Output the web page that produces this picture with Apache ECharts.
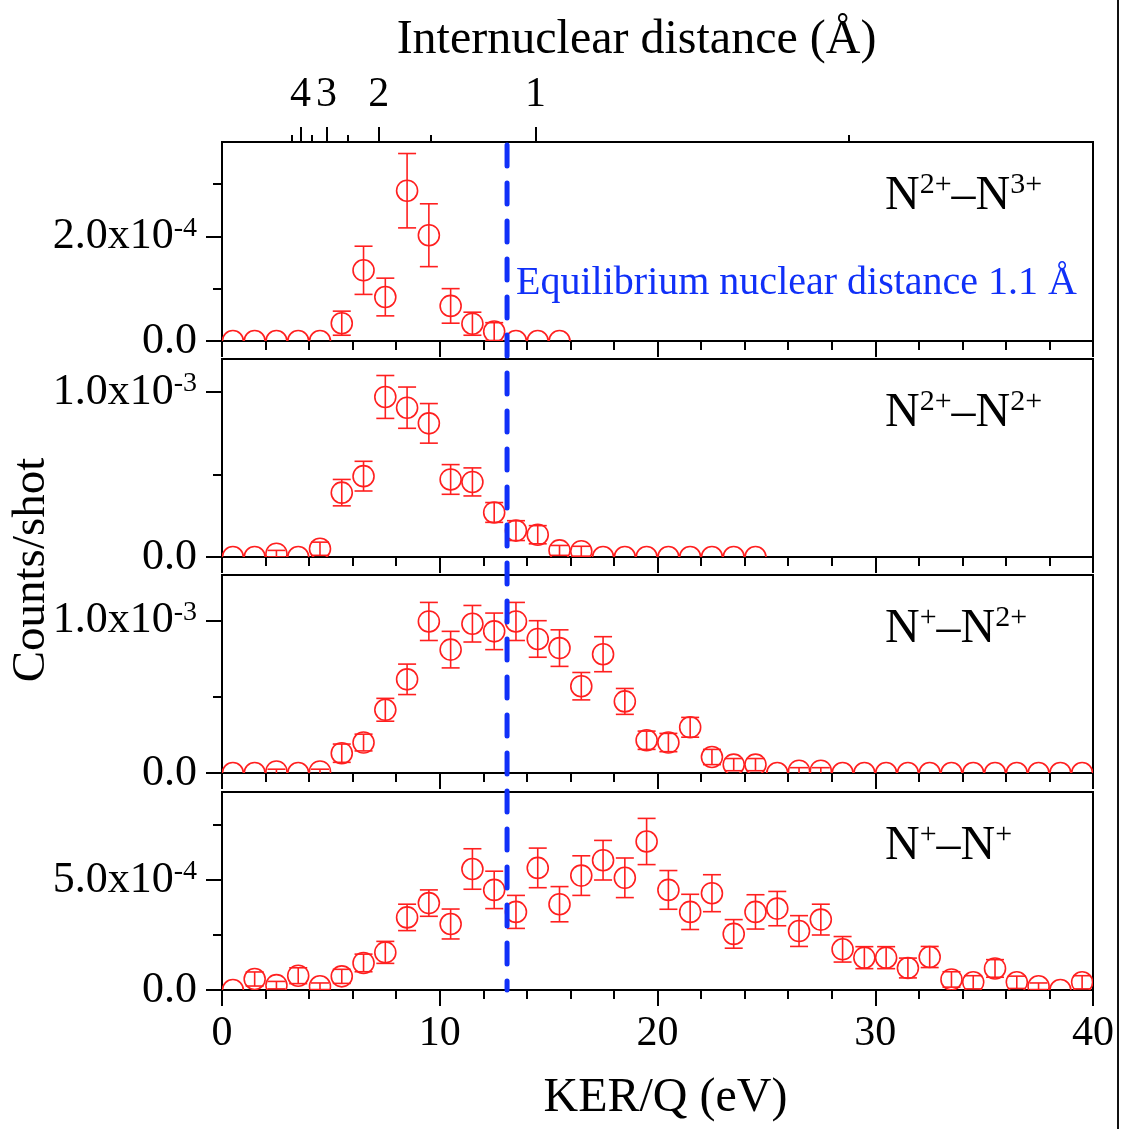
<!DOCTYPE html>
<html>
<head>
<meta charset="utf-8">
<script src="https://cdn.jsdelivr.net/npm/echarts@6/dist/echarts.min.js"></script>
<style>
  html, body { margin: 0; padding: 0; background: #fff; }
  #chart { width: 1123px; height: 1129px; }
</style>
</head>
<body>
<div id="chart"></div>
<script>
// KER/Q bin centres (eV)
const kerBins = [
  0.5, 1.5, 2.5, 3.5, 4.5, 5.5, 6.5, 7.5, 8.5, 9.5,
  10.5, 11.5, 12.5, 13.5, 14.5, 15.5, 16.5, 17.5, 18.5, 19.5,
  20.5, 21.5, 22.5, 23.5, 24.5, 25.5, 26.5, 27.5, 28.5, 29.5,
  30.5, 31.5, 32.5, 33.5, 34.5, 35.5, 36.5, 37.5, 38.5, 39.5
];

// N2+ - N3+  (counts/shot in units of 1e-4)
const n2n3Counts = [0, 0, 0, 0, 0, 0.34, 1.35, 0.84, 2.87, 2.02, 0.67, 0.33, 0.18, 0, 0, 0];
const n2n3Errors = [0, 0, 0, 0, 0, 0.23, 0.46, 0.36, 0.71, 0.60, 0.33, 0.22, 0.17, 0, 0, 0];

// N2+ - N2+  (units of 1e-3)
const n2n2Counts = [0, 0, 0.02, 0, 0.05, 0.39, 0.49, 0.97, 0.905, 0.81, 0.47, 0.455, 0.27, 0.16, 0.135, 0.04, 0.035,
  0, 0, 0, 0, 0, 0, 0, 0];
const n2n2Errors = [0, 0, 0.02, 0, 0.04, 0.08, 0.09, 0.13, 0.125, 0.12, 0.09, 0.085, 0.06, 0.06, 0.055, 0.03, 0.03,
  0, 0, 0, 0, 0, 0, 0, 0];

// N+ - N2+  (units of 1e-3)
const n1n2Counts = [0, 0, 0.01, 0, 0.01, 0.13, 0.20, 0.415, 0.615, 0.995, 0.81, 0.98, 0.93, 0.995, 0.88, 0.82,
  0.57, 0.78, 0.47, 0.215, 0.20, 0.30, 0.105, 0.055, 0.055, 0, 0.015, 0.015,
  0, 0, 0, 0, 0, 0, 0, 0, 0, 0, 0, 0];
const n1n2Errors = [0, 0, 0.015, 0, 0.015, 0.06, 0.055, 0.075, 0.10, 0.125, 0.12, 0.12, 0.12, 0.125, 0.12, 0.12,
  0.09, 0.115, 0.085, 0.06, 0.06, 0.065, 0.05, 0.04, 0.04, 0, 0.02, 0.02,
  0, 0, 0, 0, 0, 0, 0, 0, 0, 0, 0, 0];

// N+ - N+  (units of 1e-4)
const n1n1Counts = [0, 0.50, 0.22, 0.65, 0.17, 0.62, 1.23, 1.71, 3.30, 3.95, 3.00, 5.50, 4.55, 3.55, 5.55, 3.90,
  5.20, 5.90, 5.10, 6.75, 4.55, 3.55, 4.40, 2.55, 3.55, 3.70, 2.68, 3.20, 1.85, 1.47,
  1.47, 1.00, 1.50, 0.48, 0.35, 0.98, 0.35, 0.17, 0, 0.35];
const n1n1Errors = [0, 0.32, 0.17, 0.36, 0.15, 0.32, 0.40, 0.50, 0.60, 0.60, 0.68, 0.92, 0.85, 0.75, 0.90, 0.80,
  0.90, 0.90, 0.90, 1.05, 0.88, 0.80, 0.84, 0.65, 0.78, 0.78, 0.70, 0.70, 0.58, 0.50,
  0.50, 0.45, 0.48, 0.35, 0.30, 0.40, 0.28, 0.15, 0, 0.30];

// Charge-state labels (superscripts of each ion)
const panelCharges = [['2+', '3+'], ['2+', '2+'], ['+', '2+'], ['+', '+']];

// Left-axis ticks per panel
const yMaxima = [3.8e-4, 1.2e-3, 1.3e-3, 9.0e-4];
const yMajorTicks = [[0, 2e-4], [0, 1e-3], [0, 1e-3], [0, 5e-4]];
const yMinorTicks = [[1e-4, 3e-4], [5e-4], [5e-4], [2.5e-4, 7.5e-4]];
const yExponents = [-4, -3, -3, -4];
const yUnits = [1e-4, 1e-3, 1e-3, 1e-4];

// Internuclear distance scale (Å): KER/Q = 14.4 / R
const coulombConst = 14.4;
const distanceMajorTicks = [4, 3, 2, 1];
const distanceMinorTicks = [4.5, 3.5, 2.5, 1.5, 0.5];
const equilibriumDistance = 1.1;

const FONT = "'Liberation Serif', 'Times New Roman', serif";
const BLACK = '#000';
const RED = '#ff1f1f';
const BLUE = '#1030f8';

const panelCounts = [n2n3Counts, n2n2Counts, n1n2Counts, n1n1Counts];
const panelErrors = [n2n3Errors, n2n2Errors, n1n2Errors, n1n1Errors];

const gridBoxes = [
  { top: 142, height: 199 },
  { top: 359, height: 198 },
  { top: 575, height: 198 },
  { top: 792, height: 198 }
];

const axisLineStyle = { color: BLACK, width: 2 };

function yLabel(value, exp) {
  if (value === 0) return '0.0';
  const mant = value / Math.pow(10, exp);
  return '{m|' + mant.toFixed(1) + 'x10}{e|' + exp + '}';
}

// Open circle with a capped vertical error bar; the series clip keeps
// points sitting on zero cut at the panel floor.
function renderPoint(params, api) {
  const x = api.value(0), v = api.value(1), e = api.value(2);
  const c = api.coord([x, v]);
  const style = { stroke: RED, lineWidth: 1.6, fill: null };
  const children = [
    { type: 'circle', shape: { cx: c[0], cy: c[1], r: 10.5 }, style: { stroke: RED, lineWidth: 1.6, fill: 'none' } }
  ];
  if (e > 0) {
    const top = api.coord([x, v + e]);
    const bot = api.coord([x, v - e]);
    const cap = 9;
    children.push(
      { type: 'line', shape: { x1: top[0], y1: top[1], x2: bot[0], y2: bot[1] }, style: style },
      { type: 'line', shape: { x1: top[0] - cap, y1: top[1], x2: top[0] + cap, y2: top[1] }, style: style },
      { type: 'line', shape: { x1: bot[0] - cap, y1: bot[1], x2: bot[0] + cap, y2: bot[1] }, style: style }
    );
  }
  return { type: 'group', children: children };
}

const grids = [], xAxes = [], yAxes = [], series = [];

gridBoxes.forEach(function (box, i) {
  grids.push({
    left: 222, width: 871, top: box.top, height: box.height,
    show: true, borderColor: BLACK, borderWidth: 2, backgroundColor: 'transparent'
  });

  const isLast = i === gridBoxes.length - 1;
  xAxes.push({
    type: 'value', gridIndex: i, position: 'bottom',
    min: 0, max: 40, interval: 10,
    axisLine: { show: true, onZero: false, lineStyle: axisLineStyle },
    axisTick: { show: true, length: 16, lineStyle: axisLineStyle },
    minorTick: { show: true, splitNumber: 5, length: 9, lineStyle: axisLineStyle },
    splitLine: { show: false },
    axisLabel: { show: isLast, color: BLACK, fontFamily: FONT, fontSize: 42, margin: 23 },
    name: isLast ? 'KER/Q (eV)' : '',
    nameLocation: 'middle', nameGap: 84,
    nameTextStyle: { color: BLACK, fontFamily: FONT, fontSize: 48, padding: [0, 0, 0, 16] }
  });

  const exp = yExponents[i];
  yAxes.push({
    type: 'value', gridIndex: i, position: 'left',
    min: 0, max: yMaxima[i],
    axisLine: { show: true, onZero: false, lineStyle: axisLineStyle },
    axisTick: { show: true, length: 16, lineStyle: axisLineStyle, customValues: yMajorTicks[i] },
    splitLine: { show: false },
    axisLabel: {
      customValues: yMajorTicks[i],
      color: BLACK, fontFamily: FONT, fontSize: 44, margin: 25,
      formatter: function (v) { return yLabel(v, exp); },
      rich: {
        m: { fontFamily: FONT, fontSize: 44, lineHeight: 44, color: BLACK, verticalAlign: 'bottom' },
        e: { fontFamily: FONT, fontSize: 28, lineHeight: 28, color: BLACK, verticalAlign: 'top' }
      }
    }
  });
  yAxes.push({
    type: 'value', gridIndex: i, position: 'left',
    min: 0, max: yMaxima[i],
    axisLine: { show: false, onZero: false },
    axisTick: { show: true, length: 9, lineStyle: axisLineStyle, customValues: yMinorTicks[i] },
    splitLine: { show: false },
    axisLabel: { show: false }
  });

  const unit = yUnits[i];
  const counts = panelCounts[i], errors = panelErrors[i];
  const points = counts.map(function (c, k) { return [kerBins[k], c * unit, errors[k] * unit]; });

  series.push({
    type: 'custom', xAxisIndex: i, yAxisIndex: 2 * i,
    renderItem: renderPoint, data: points, clip: true, z: 3,
    encode: { x: 0, y: 1 }, silent: true
  });
});

// Internuclear distance axis across the top of the first panel
const distLabelValues = distanceMajorTicks.map(function (r) { return coulombConst / r; });
xAxes.push({
  type: 'value', gridIndex: 0, position: 'top',
  min: 0, max: 40,
  axisLine: { show: false, onZero: false },
  axisTick: { show: true, length: 15, lineStyle: axisLineStyle, customValues: distLabelValues },
  splitLine: { show: false },
  axisLabel: {
    customValues: distLabelValues,
    color: BLACK, fontFamily: FONT, fontSize: 42, margin: 26,
    formatter: function (v) { return String(Math.round(coulombConst / v)); }
  },
  name: 'Internuclear distance (Å)',
  nameLocation: 'middle', nameGap: 78,
  nameTextStyle: { color: BLACK, fontFamily: FONT, fontSize: 48, padding: [0, 42, 0, 0] }
});
xAxes.push({
  type: 'value', gridIndex: 0, position: 'top',
  min: 0, max: 40,
  axisLine: { show: false, onZero: false },
  axisTick: { show: true, length: 7, lineStyle: axisLineStyle,
    customValues: distanceMinorTicks.map(function (r) { return coulombConst / r; }) },
  splitLine: { show: false },
  axisLabel: { show: false }
});

const chart = echarts.init(document.getElementById('chart'));
chart.setOption({
  animation: false,
  backgroundColor: '#fff',
  textStyle: { fontFamily: FONT, color: BLACK },
  grid: grids,
  xAxis: xAxes,
  yAxis: yAxes,
  series: series
});

// Overlays: equilibrium marker, panel labels, shared y title, page edge
const eqKer = coulombConst / equilibriumDistance;
const lineX = chart.convertToPixel({ xAxisIndex: 0 }, eqKer);
const lineTop = chart.convertToPixel({ yAxisIndex: 0 }, yMaxima[0]);
const lineBottom = chart.convertToPixel({ yAxisIndex: 6 }, 0);

const graphics = [
  {
    type: 'line', z: 20,
    shape: { x1: lineX, y1: lineTop + 3, x2: lineX, y2: lineBottom },
    style: { stroke: BLUE, lineWidth: 5, lineDash: [21, 17], lineCap: 'round' }
  },
  {
    type: 'text', z: 20,
    x: lineX + 9, y: lineTop + 141,
    style: {
      text: 'Equilibrium nuclear distance 1.1 Å',
      fill: BLUE, fontFamily: FONT, fontSize: 40,
      align: 'left', verticalAlign: 'middle'
    }
  },
  {
    type: 'text', z: 20,
    x: 32, y: 570, rotation: Math.PI / 2,
    style: {
      text: 'Counts/shot', fill: BLACK, fontFamily: FONT, fontSize: 47,
      align: 'center', verticalAlign: 'middle'
    }
  },
  {
    type: 'rect', z: 20,
    shape: { x: 1117, y: 0, width: 2, height: 1129 },
    style: { fill: '#111' }
  }
];

panelCharges.forEach(function (q, i) {
  const top = chart.convertToPixel({ yAxisIndex: 2 * i }, yMaxima[i]);
  graphics.push({
    type: 'text', z: 20,
    x: 885, y: top + 53,
    style: {
      text: '{n|N}{s|' + q[0] + '}{n|–N}{s|' + q[1] + '}',
      align: 'left', verticalAlign: 'middle',
      rich: {
        n: { fontFamily: FONT, fontSize: 48, lineHeight: 50, fill: BLACK, verticalAlign: 'bottom' },
        s: { fontFamily: FONT, fontSize: 30, lineHeight: 30, fill: BLACK, verticalAlign: 'top' }
      }
    }
  });
});

chart.setOption({ graphic: graphics });
</script>
</body>
</html>
